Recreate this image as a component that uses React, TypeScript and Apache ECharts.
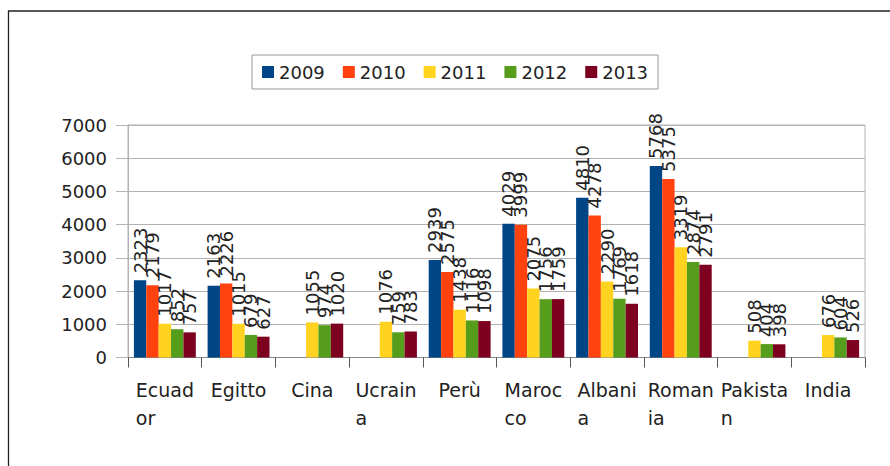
import React, { useEffect, useRef } from "react";
import * as echarts from "echarts";

const categories = ["Ecuador", "Egitto", "Cina", "Ucraina", "Perù", "Marocco", "Albania", "Romania", "Pakistan", "India"];
const xTickLabels = ["Ecuad\nor", "Egitto", "Cina", "Ucrain\na", "Perù", "Maroc\nco", "Albani\na", "Roman\nia", "Pakista\nn", "India"];
const years = ["2009", "2010", "2011", "2012", "2013"];
const y2009 = [2323, 2163, null, null, 2939, 4029, 4810, 5768, null, null];
const y2010 = [2179, 2226, null, null, 2575, 3999, 4278, 5375, null, null];
const y2011 = [1017, 1015, 1055, 1076, 1438, 2075, 2290, 3319, 508, 676];
const y2012 = [852, 679, 974, 759, 1116, 1756, 1769, 2874, 404, 604];
const y2013 = [757, 627, 1020, 783, 1098, 1759, 1618, 2791, 398, 526];
const seriesValues = [y2009, y2010, y2011, y2012, y2013];
const colors = ["#004586", "#ff420e", "#ffd320", "#579d1c", "#7e0021"];

const FONT = "DejaVu Sans";

export default function App() {
  const ref = useRef<HTMLDivElement>(null);
  useEffect(() => {
    if (!ref.current) return;
    const chart = echarts.init(ref.current, null, { renderer: "svg" });
    chart.setOption({
      animation: false,
      backgroundColor: "#ffffff",
      color: colors,
      graphic: [
        {
          type: "rect",
          shape: { x: 8.5, y: 11, width: 900, height: 500 },
          style: { fill: "none", stroke: "#222", lineWidth: 1.3 },
          silent: true,
        },
      ],
      legend: {
        data: years,
        left: 252,
        top: 55,
        padding: [8, 10],
        itemWidth: 12,
        itemHeight: 12,
        itemGap: 18,
        icon: "rect",
        borderColor: "#999",
        borderWidth: 1,
        textStyle: { fontFamily: FONT, fontSize: 18, color: "#222" },
      },
      grid: {
        left: 128,
        right: 25,
        top: 125,
        bottom: 108.5,
        show: true,
        borderColor: "#b3b3b3",
        borderWidth: 1,
      },
      xAxis: {
        type: "category",
        data: categories,
        axisLine: { lineStyle: { color: "#888" } },
        axisTick: { show: true, length: 10, lineStyle: { color: "#555" } },
        axisLabel: {
          margin: 18,
          interval: 0,
          formatter: (_v: string, i: number) =>
            xTickLabels[i].split("\n").map((l) => `{a|${l}}`).join("\n"),
          rich: {
            a: { align: "left", fontFamily: FONT, fontSize: 19, lineHeight: 28, color: "#222" },
          },
        },
      },
      yAxis: {
        type: "value",
        min: 0,
        max: 7000,
        interval: 1000,
        axisLine: { show: true, lineStyle: { color: "#b3b3b3" } },
        axisTick: { show: true, length: 12, lineStyle: { color: "#b3b3b3" } },
        splitLine: { lineStyle: { color: "#b3b3b3" } },
        axisLabel: {
          margin: 21,
          fontFamily: FONT,
          fontSize: 18,
          color: "#222",
          formatter: (v: number) => String(v),
        },
      },
      series: years.map((y, i) => ({
        name: y,
        type: "bar",
        data: seriesValues[i],
        barGap: 0,
        barCategoryGap: "16%",
        label: {
          show: true,
          position: "top",
          rotate: 90,
          align: "left",
          verticalAlign: "middle",
          distance: 4,
          offset: [3, 0],
          fontFamily: FONT,
          fontSize: 18,
          color: "#222",
          formatter: (p: any) => String(p.value),
        },
      })),
    });
    return () => chart.dispose();
  }, []);
  return (
    <div
      ref={ref}
      style={{ position: "fixed", left: 0, top: 0, width: 890, height: 466, background: "#fff" }}
    />
  );
}
